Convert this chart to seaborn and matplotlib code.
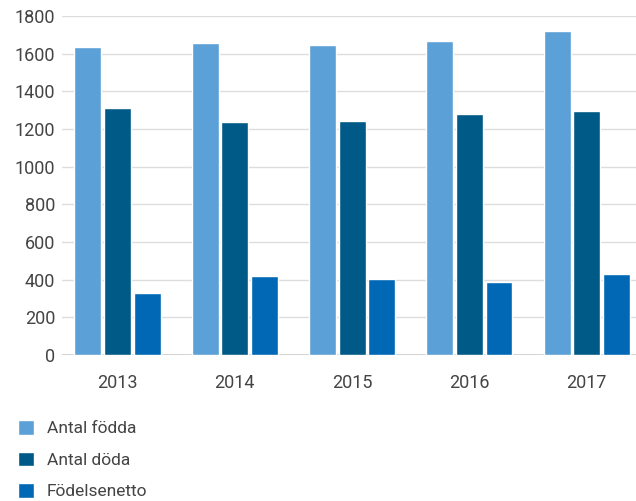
import matplotlib
matplotlib.use("Agg")
import matplotlib.pyplot as plt
import seaborn as sns
import pandas as pd

years = ["2013", "2014", "2015", "2016", "2017"]
fodda = [1637, 1654, 1644, 1665, 1723]
doda = [1309, 1235, 1241, 1277, 1293]
netto = [328, 419, 403, 388, 430]
series_names = ["Antal födda", "Antal döda", "Födelsenetto"]
colors = ["#5BA1D7", "#005A87", "#0068B4"]

df = pd.DataFrame({
    "year": years * 3,
    "value": fodda + doda + netto,
    "series": [series_names[0]] * 5 + [series_names[1]] * 5 + [series_names[2]] * 5,
})

sns.set_theme(style="white")
plt.rcParams["font.family"] = ["Roboto", "DejaVu Sans"]

W, H = 636, 501
fig = plt.figure(figsize=(W / 100, H / 100), dpi=100)
ax = fig.add_axes([62 / W, 1 - 355 / H, (645.3 - 62) / W, (355 - 16) / H])

sns.barplot(data=df, x="year", y="value", hue="series", palette=colors,
            width=0.758, gap=0.09, ax=ax, saturation=1, legend=True)

ax.set_xlim(-0.473, 4.5)
ax.set_ylim(0, 1800)
ax.set_yticks(range(0, 1801, 200))
ax.yaxis.grid(True, color="#dddddd", linewidth=1)
ax.set_axisbelow(True)
ax.axhline(0, color="#cccccc", linewidth=2, zorder=0.5)
for s in ax.spines.values():
    s.set_visible(False)
ax.set_xlabel("")
ax.set_ylabel("")
ax.tick_params(axis="y", length=0, pad=5, labelsize=13, labelcolor="#444444")
ax.tick_params(axis="x", length=0, pad=14, labelsize=13, labelcolor="#444444")

handles, labels = ax.get_legend_handles_labels()
ax.legend_.remove()
fig.legend(handles, labels, loc="upper left", bbox_to_anchor=(18 / W, 1 - 420 / H),
           frameon=False, fontsize=12.5, labelcolor="#444444",
           handlelength=0.92, handleheight=0.92, handletextpad=0.75,
           labelspacing=0.88, borderaxespad=0, borderpad=0)

fig.savefig("out.png", dpi=100)
